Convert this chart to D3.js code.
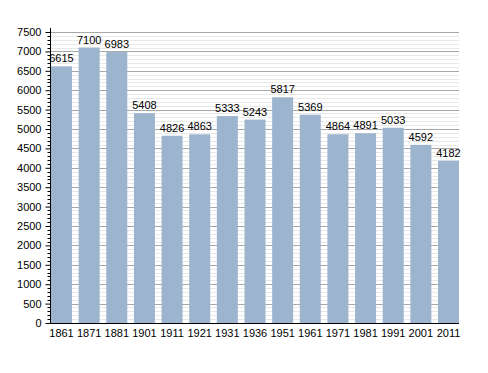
<!DOCTYPE html>
<html>
	<head>
		<meta charset="utf-8">
		<script src="https://cdnjs.cloudflare.com/ajax/libs/d3/7.8.5/d3.min.js"></script>
		<style>
			body { margin: 0; background: #fff; }
			text { font-family: "Liberation Sans", Arial, sans-serif; font-size: 11px; fill: #000; }
		</style>
	</head>
	<body>
		<div id="chart"></div>
		<script>
			//Data
			var years = ["1861","1871","1881","1901","1911","1921","1931","1936","1951","1961","1971","1981","1991","2001","2011"];
			var population = [6615,7100,6983,5408,4826,4863,5333,5243,5817,5369,4864,4891,5033,4592,4182];
			var majorTicks = d3.range(0, 7501, 500);
			var minorTicks = d3.range(0, 7501, 100);

			var width = 488, height = 373;
			var plotLeft = 51, plotRight = 459, plotTop = 32, plotBottom = 323;

			var svg = d3.select("#chart").append("svg")
				.attr("width", width)
				.attr("height", height);

			var x = d3.scaleBand()
				.domain(years)
				.range([plotLeft, plotRight])
				.paddingInner(0.24)
				.paddingOuter(0);

			var y = d3.scaleLinear()
				.domain([0, 7500])
				.range([plotBottom, plotTop]);

			function py(d) { return Math.round(y(d)) + 0.5; }

			//Minor gridlines
			svg.append("g").selectAll("line")
				.data(minorTicks.filter(function(d) { return d % 500 !== 0; }))
				.enter().append("line")
				.attr("x1", plotLeft).attr("x2", plotRight)
				.attr("y1", py).attr("y2", py)
				.style("stroke", "#e8e8e8");

			//Major gridlines
			svg.append("g").selectAll("line")
				.data(majorTicks.filter(function(d) { return d > 0; }))
				.enter().append("line")
				.attr("x1", plotLeft).attr("x2", plotRight)
				.attr("y1", py).attr("y2", py)
				.style("stroke", "#a8a8a8");

			//Bars
			svg.append("g").selectAll("rect")
				.data(population)
				.enter().append("rect")
				.attr("x", function(d,i) { return x(years[i]); })
				.attr("y", function(d) { return y(d); })
				.attr("width", x.bandwidth())
				.attr("height", function(d) { return plotBottom - y(d); })
				.style("fill", "#9db4cf");

			//Value labels
			svg.append("g").selectAll("text")
				.data(population)
				.enter().append("text")
				.attr("x", function(d,i) { return x(years[i]) + x.bandwidth()/2; })
				.attr("y", function(d) { return y(d) - 4; })
				.attr("text-anchor", "middle")
				.text(function(d) { return d; });

			//Y axis
			var yAxis = svg.append("g")
				.attr("transform", "translate(" + (plotLeft - 0.5) + ",0)")
				.call(d3.axisLeft(y).tickValues(majorTicks).tickSize(5).tickPadding(4).tickFormat(d3.format("d")));
			yAxis.selectAll(".tick text").style("font-size", "11px").style("font-family", "Liberation Sans, Arial, sans-serif");
			yAxis.select(".domain").attr("d", "M0," + (plotTop - 4) + "V" + plotBottom);

			//Minor ticks on the y axis
			svg.append("g").selectAll("line")
				.data(minorTicks.filter(function(d) { return d % 500 !== 0; }))
				.enter().append("line")
				.attr("x1", plotLeft - 3.5).attr("x2", plotLeft)
				.attr("y1", py).attr("y2", py)
				.style("stroke", "#000");

			//X axis
			var xAxis = svg.append("g")
				.attr("transform", "translate(0," + (plotBottom + 0.5) + ")")
				.call(d3.axisBottom(x).tickSize(0).tickPadding(6));
			xAxis.selectAll(".tick text").style("font-size", "11px").style("font-family", "Liberation Sans, Arial, sans-serif");
			xAxis.select(".domain").attr("d", "M" + (plotLeft - 1) + ",0H" + plotRight);
		</script>
	</body>
</html>
